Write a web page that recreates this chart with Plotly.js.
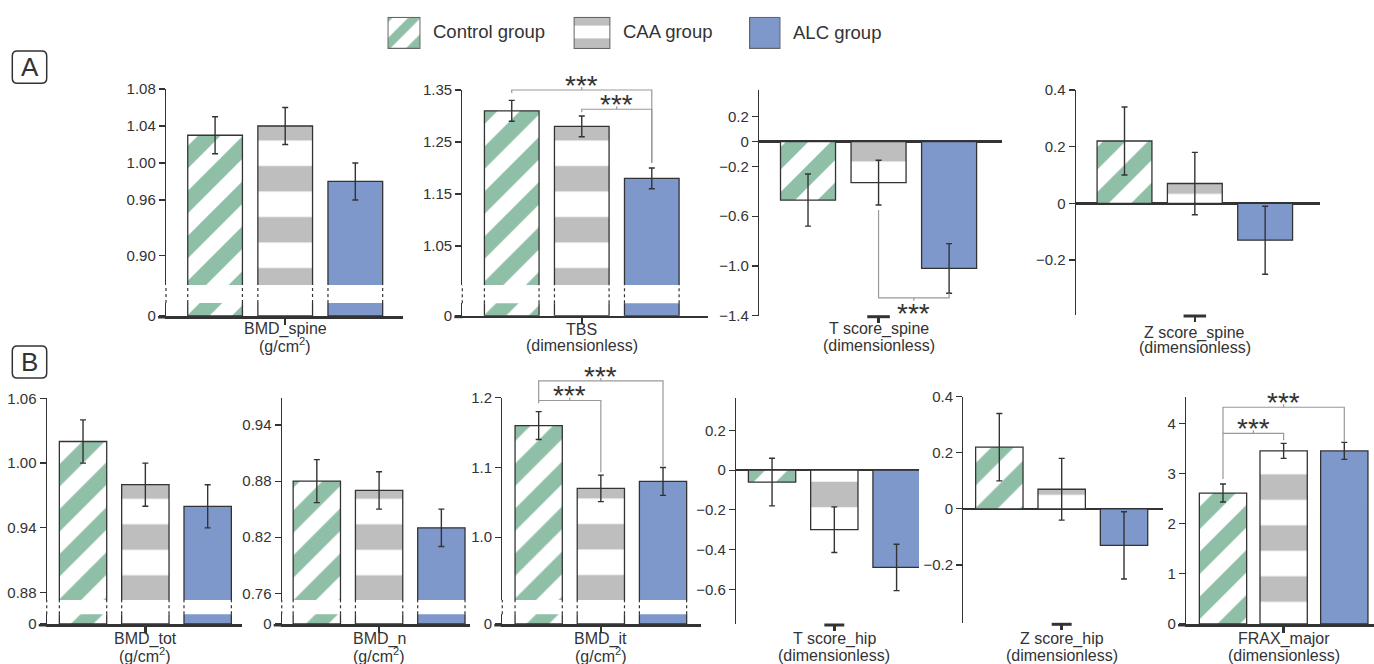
<!DOCTYPE html>
<html><head><meta charset="utf-8">
<script src="https://cdn.plot.ly/plotly-3.0.1.min.js"></script>
<style>body{margin:0;background:#fff}#chart{width:1374px;height:664px}</style>
</head><body><div id="chart"></div>
<script>
// ---------------- data ----------------
const groups = ['Control group', 'CAA group', 'ALC group'];
const measures = ['BMD_spine', 'TBS', 'T score_spine', 'Z score_spine', 'BMD_tot', 'BMD_n', 'BMD_it', 'T score_hip', 'Z score_hip', 'FRAX_major'];
const units = ['(g/cm<sup>2</sup>)', '(dimensionless)', '(dimensionless)', '(dimensionless)', '(g/cm<sup>2</sup>)', '(g/cm<sup>2</sup>)', '(g/cm<sup>2</sup>)', '(dimensionless)', '(dimensionless)', '(dimensionless)'];
const controlMean = [1.03, 1.31, -0.47, 0.22, 1.02, 0.88, 1.16, -0.06, 0.22, 2.61];
const controlSE   = [0.02, 0.02, 0.21, 0.12, 0.02, 0.023, 0.02, 0.12, 0.12, 0.18];
const caaMean     = [1.04, 1.28, -0.33, 0.07, 0.98, 0.87, 1.07, -0.30, 0.07, 3.45];
const caaSE       = [0.02, 0.02, 0.18, 0.11, 0.02, 0.02, 0.019, 0.115, 0.11, 0.15];
const alcMean     = [0.98, 1.18, -1.02, -0.13, 0.96, 0.83, 1.08, -0.49, -0.13, 3.45];
const alcSE       = [0.02, 0.02, 0.20, 0.12, 0.02, 0.02, 0.02, 0.117, 0.12, 0.17];
const tickVals = [[0.90,0.96,1.00,1.04,1.08],[1.05,1.15,1.25,1.35],[-1.4,-1.0,-0.6,-0.2,0,0.2],[-0.2,0,0.2,0.4],[0.88,0.94,1.00,1.06],[0.76,0.82,0.88,0.94],[1.0,1.1,1.2],[-0.6,-0.4,-0.2,0,0.2],[-0.2,0,0.2,0.4],[0,1,2,3,4]];
const tickText = [['0.90','0.96','1.00','1.04','1.08'],['1.05','1.15','1.25','1.35'],['−1.4','−1.0','−0.6','−0.2','0','0.2'],['−0.2','0','0.2','0.4'],['0.88','0.94','1.00','1.06'],['0.76','0.82','0.88','0.94'],['1.0','1.1','1.2'],['−0.6','−0.4','−0.2','0','0.2'],['−0.2','0','0.2','0.4'],['0','1','2','3','4']];
// significance comparisons
const sigPanel = [1, 1, 2, 6, 6, 9, 9];
const sigFrom  = [0, 1, 1, 0, 0, 0, 0];
const sigTo    = [2, 2, 2, 2, 1, 2, 1];
const sigLabel = ['***', '***', '***', '***', '***', '***', '***'];

// ---------------- layout geometry (pixels) ----------------
const W = 1374, H = 664;
const GREEN = '#8fbfa6', GRAY = '#bebebe', BLUE = '#7e98cc', INK = '#333333';
const FONT = 'Liberation Sans, Arial, sans-serif';
// ph: page y (mod stripe period) where a grey CAA stripe starts in that panel
const geom = [
  {x:[166,403],     y:[89,316],     brk:[285,303],   yr:[0.868,1.08],   xr:[-0.70,2.68],  bw:0.78, t:[329.3,345], ph:13},
  {x:[462.3,708.3], y:[90,315.7],   brk:[285,303.3], yr:[0.975,1.35],   xr:[-0.706,2.807],bw:0.78, t:[329.3,345], ph:13},
  {x:[759,1002],    y:[90,315.7],   yr:[-1.4,0.415],  xr:[-0.695,2.75], bw:0.78, zero:true, t:[329.3,345], ph:34},
  {x:[1075.7,1320], y:[90,315],     yr:[-0.394,0.4],  xr:[-0.694,2.78], bw:0.78, zero:true, t:[332.7,347.7], ph:15.3},
  {x:[46.7,241.7],  y:[398.3,624],  brk:[600,614.3], yr:[0.8732,1.06],  xr:[-0.583,2.546],bw:0.76, t:[639.3,655], ph:14.3},
  {x:[281.7,470],   y:[398.3,624],  brk:[600,614.3], yr:[0.7528,0.9686],xr:[-0.564,2.46], bw:0.76, t:[639.3,655], ph:14.3},
  {x:[502.3,700.7], y:[397.7,624],  brk:[600,614.3], yr:[0.910,1.2],    xr:[-0.585,2.606],bw:0.76, t:[639.3,655], ph:14},
  {x:[736,919],     y:[398.3,624],  yr:[-0.775,0.362], xr:[-0.579,2.36], bw:0.76, zero:true, t:[639.3,655], ph:22.7},
  {x:[963.3,1163.3],y:[396.7,623.3],yr:[-0.408,0.4],   xr:[-0.578,2.63], bw:0.76, zero:true, t:[639.3,655], ph:10.3},
  {x:[1186,1374],   y:[396.7,624],  yr:[0,4.53],       xr:[-0.61,2.49],  bw:0.78, t:[639.3,655], ph:15.3}
];
const bracketGeom = [
  {level:1.35,  l:1.344, r:1.21},
  {level:1.313, l:1.307, r:1.21},
  {level:-1.256, l:-0.55, r:-1.22, below:true},
  {level:1.224, l:1.196, r:1.102},
  {level:1.196, l:1.192, r:1.093},
  {level:4.32,  l:3.80,  r:3.63},
  {level:3.80,  l:2.89,  r:3.66}
];
const swatches = [[387.3,420.7],[573.3,610.7],[749,780.7]];
const swY = [16.7, 49];
const STRIPE = {diag:31.8, diagLeg:20, horiz:51, horizLeg:22, horizLegPhase:21};

const dx = px => px / W;
const dy = py => 1 - py / H;
function segDom(p){ return p.brk ? [p.y[0], p.brk[0]] : [p.y[0], p.y[1]]; }
function yPx(k, v){ const p = geom[k], d = segDom(p); return d[0] + (p.yr[1]-v)/(p.yr[1]-p.yr[0])*(d[1]-d[0]); }
function xPx(k, g){ const p = geom[k]; return p.x[0] + (g-p.xr[0])/(p.xr[1]-p.xr[0])*(p.x[1]-p.x[0]); }

const means = [controlMean, caaMean, alcMean];
const ses = [controlSE, caaSE, alcSE];

function markerFor(g, leg){
  const line = {color: leg ? '#666' : INK, width: leg ? 1.2 : 1.3};
  if (g === 0) return {color:'white', line, pattern:{shape:'/', fgcolor:GREEN, bgcolor:'white', size: leg ? STRIPE.diagLeg : STRIPE.diag, solidity: leg ? 0.45 : 0.5, fillmode:'replace'}};
  if (g === 1) return {color:'white', line, pattern:{shape:'-', fgcolor:GRAY, bgcolor:'white', size: leg ? STRIPE.horizLeg : STRIPE.horiz, solidity: leg ? 0.42 : 0.5, fillmode:'replace'}};
  return {color:BLUE, line};
}

const traces = [];
const shapes = [];
const annotations = [];
const layout = {
  width: W, height: H, margin:{l:0,r:0,t:0,b:0},
  paper_bgcolor:'white', plot_bgcolor:'rgba(0,0,0,0)',
  barmode:'overlay', showlegend:false,
  font:{family:FONT, color:INK}
};
let n = 0;
function newAxes(){ n++; const s = n === 1 ? '' : String(n); return {xn:'x'+s, yn:'y'+s, xa:'xaxis'+s, ya:'yaxis'+s}; }

geom.forEach((p, k) => {
  const segs = p.brk
    ? [{d:[p.y[0], p.brk[0]], r:p.yr, main:true, base:false}, {d:[p.brk[1], p.y[1]], r:[0, 0.05], main:false, base:true}]
    : [{d:p.y, r:p.yr, main:true, base:true}];
  segs.forEach(s => {
    const a = newAxes();
    for (let g = 0; g < 3; g++) {
      traces.push({
        type:'bar', x:[g], y:[means[g][k]], width:p.bw, name:groups[g],
        xaxis:a.xn, yaxis:a.yn, marker:markerFor(g, false),
        error_y: s.main ? {type:'data', array:[ses[g][k]], visible:true, color:INK, thickness:1.4, width:3} : {visible:false},
        hoverinfo:'skip'
      });
    }
    const xax = {domain:[dx(p.x[0]), dx(p.x[1])], range:p.xr, anchor:a.yn, fixedrange:true, showgrid:false, zeroline:false};
    if (!s.base) xax.visible = false;
    else Object.assign(xax, {tickmode:'array', tickvals:[1], ticktext:[''], ticks:'outside', ticklen:6, tickwidth:2.5, tickcolor:INK, showline:!p.zero, linewidth:2.5, linecolor:INK});
    layout[a.xa] = xax;
    layout[a.ya] = {
      domain:[dy(s.d[1]), dy(s.d[0])], range:s.r, anchor:a.xn, fixedrange:true, showgrid:false,
      showline:true, linewidth:1.2, linecolor:INK, ticks:'outside', ticklen:6, tickwidth:1.2, tickcolor:INK,
      tickmode:'array', tickvals: s.main ? tickVals[k] : [0],
      ticktext: s.main ? tickText[k] : ['0'],
      tickfont:{size:15, color:INK, family:FONT},
      zeroline:!!p.zero, zerolinewidth:2.5, zerolinecolor:INK
    };
  });

  if (p.zero) {
    shapes.push({type:'line', xref:'paper', yref:'paper', x0:dx(xPx(k,0.84)), x1:dx(xPx(k,1.16)), y0:dy(p.y[1]+1), y1:dy(p.y[1]+1), line:{color:INK, width:3}});
  } else {
    shapes.push({type:'line', xref:'paper', yref:'paper', x0:dx(p.x[0]-8), x1:dx(p.x[0]), y0:dy(p.y[1]+1.25), y1:dy(p.y[1]+1.25), line:{color:INK, width:2.5}});
  }
  if (p.brk) {
    const edges = [p.x[0]];
    for (let g = 0; g < 3; g++) { edges.push(xPx(k, g - p.bw/2)); edges.push(xPx(k, g + p.bw/2)); }
    edges.forEach(e => shapes.push({type:'line', xref:'paper', yref:'paper', x0:dx(e), x1:dx(e), y0:dy(p.brk[1]), y1:dy(p.brk[0]), line:{color:INK, width:1.2, dash:'dot'}}));
  }
  const cx = dx(xPx(k, 1));
  annotations.push({xref:'paper', yref:'paper', x:cx, y:dy(p.t[0]), xanchor:'center', yanchor:'middle', showarrow:false, text:measures[k], font:{size:16, color:INK, family:FONT}});
  annotations.push({xref:'paper', yref:'paper', x:cx, y:dy(p.t[1]), xanchor:'center', yanchor:'middle', showarrow:false, text:units[k], font:{size:16, color:INK, family:FONT}});
});

// significance brackets
sigPanel.forEach((k, i) => {
  const gm = bracketGeom[i];
  const xa = dx(xPx(k, sigFrom[i])), xb = dx(xPx(k, sigTo[i]));
  const lp = yPx(k, gm.level);
  const yl = dy(lp), ya = dy(yPx(k, gm.l)), yb = dy(yPx(k, gm.r));
  shapes.push({type:'path', xref:'paper', yref:'paper', path:`M${xa},${ya} L${xa},${yl} L${xb},${yl} L${xb},${yb}`, line:{color:'#999999', width:1.2}});
  const xc = (xPx(k, sigFrom[i]) + xPx(k, sigTo[i])) / 2;
  shapes.push({type:'line', xref:'paper', yref:'paper', x0:dx(xc), x1:dx(xc), y0:yl, y1:dy(lp + (gm.below ? 3 : -3)), line:{color:'#999999', width:1.2}});
  annotations.push({xref:'paper', yref:'paper', x:dx(xc), y:yl, xanchor:'center', yanchor: gm.below ? 'top' : 'bottom', yshift: gm.below ? 2 : -13, showarrow:false, text:sigLabel[i], font:{size:28, color:INK, family:FONT}});
});

// legend swatches (one tiny subplot per group)
swatches.forEach((sw, g) => {
  const a = newAxes();
  traces.push({type:'bar', x:[0], y:[1], width:1, name:groups[g], xaxis:a.xn, yaxis:a.yn, marker:markerFor(g, true), hoverinfo:'skip'});
  layout[a.xa] = {domain:[dx(sw[0]), dx(sw[1])], range:[-0.52, 0.52], anchor:a.yn, visible:false, fixedrange:true};
  layout[a.ya] = {domain:[dy(swY[1]), dy(swY[0])], range:[-0.02, 1.02], anchor:a.xn, visible:false, fixedrange:true};
  annotations.push({xref:'paper', yref:'paper', x:dx(sw[1] + 10), y:dy(g === 2 ? 33 : 31), xanchor:'left', yanchor:'middle', showarrow:false, text:groups[g], font:{size:18.5, color:INK, family:FONT}});
});

// panel letters
function rrect(x0, y0, x1, y1, r){
  const P = (x, y) => dx(x) + ',' + dy(y);
  return `M${P(x0+r,y0)} L${P(x1-r,y0)} Q${P(x1,y0)} ${P(x1,y0+r)} L${P(x1,y1-r)} Q${P(x1,y1)} ${P(x1-r,y1)} L${P(x0+r,y1)} Q${P(x0,y1)} ${P(x0,y1-r)} L${P(x0,y0+r)} Q${P(x0,y0)} ${P(x0+r,y0)} Z`;
}
[['A', 51, 83.3], ['B', 346, 378]].forEach(([lab, y0, y1]) => {
  shapes.push({type:'path', xref:'paper', yref:'paper', path:rrect(12.3, y0, 46.7, y1, 5), line:{color:INK, width:1.5}});
  annotations.push({xref:'paper', yref:'paper', x:dx(29.5), y:dy((y0+y1)/2), xanchor:'center', yanchor:'middle', showarrow:false, text:lab, font:{size:26, color:INK, family:FONT}});
});

layout.shapes = shapes;
layout.annotations = annotations;

const mod = (a, m) => ((a % m) + m) % m;
Plotly.newPlot('chart', traces, layout, {displayModeBar:false, staticPlot:true}).then(gd => {
  // line up the horizontal CAA stripes with the source figure, panel by panel
  gd.querySelectorAll('path').forEach(el => {
    const f = el.style.fill || el.getAttribute('fill') || '';
    const m = /#([^"')]+)["']?\)/.exec(f);
    if (!m) return;
    const pat = document.getElementById(m[1]);
    if (!pat || pat.tagName.toLowerCase() !== 'pattern') return;
    const h = parseFloat(pat.getAttribute('height'));
    const ctm = el.getCTM();
    if (!ctm) return;
    let phase = null;
    if (Math.abs(h - STRIPE.horiz) < 0.01) {
      const k = geom.findIndex(p => Math.abs(p.x[0] - ctm.e) < 2);
      if (k < 0) return;
      phase = geom[k].ph + h / 4;   // centre of the grey stripe
    } else if (Math.abs(h - STRIPE.horizLeg) < 0.01) phase = STRIPE.horizLegPhase;
    if (phase === null) return;
    pat.setAttribute('x', 0);
    pat.setAttribute('y', mod(phase - h / 2 - ctm.f, h));
  });
});
</script>
</body></html>
